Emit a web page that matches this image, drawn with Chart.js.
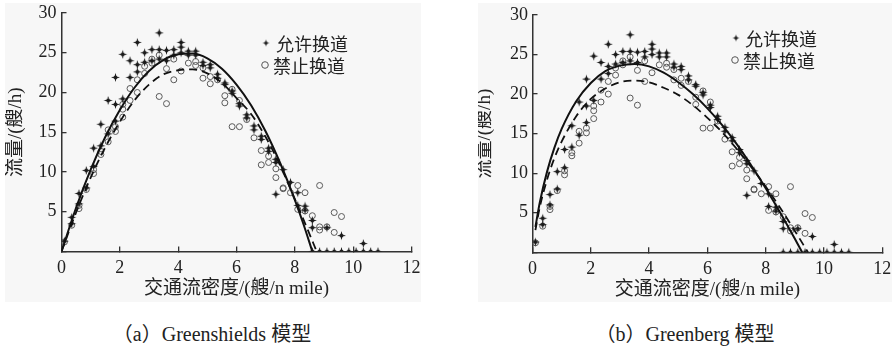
<!DOCTYPE html>
<html>
<head>
<meta charset="utf-8">
<script src="https://cdn.jsdelivr.net/npm/chart.js@4.4.1/dist/chart.umd.min.js"></script>
<style>
  html, body { margin: 0; padding: 0; background: #ffffff; }
  body { width: 895px; height: 349px; position: relative; overflow: hidden; }
  canvas { position: absolute; background: #f7f7f7; }
  .lg { position: absolute; font: 18px/18px "Noto Sans CJK SC", sans-serif; color: #222; white-space: nowrap; }
  .cap { position: absolute; font: 20px/24px "Liberation Serif", "Noto Sans CJK SC", serif; color: #222; white-space: nowrap; transform: translateX(-50%); }
</style>
</head>
<body>
<canvas id="cA" width="416" height="299" style="left:5px;top:3px;"></canvas>
<canvas id="cB" width="414" height="299" style="left:478px;top:3px;"></canvas>

<div class="lg" style="left:276px;top:34px;">允许换道</div>
<div class="lg" style="left:273px;top:56px;">禁止换道</div>
<div class="lg" style="left:745px;top:29px;">允许换道</div>
<div class="lg" style="left:743px;top:51px;">禁止换道</div>

<div class="cap" style="left:212px;top:322px;">（a）Greenshields 模型</div>
<div class="cap" style="left:685px;top:322px;">（b）Greenberg 模型</div>

<script>
// ---------------- data ----------------
// 允许换道 (lane change allowed) observations: density (艘/n mile), flow (艘/h)
const allowX = [0.1,0.35,0.35,0.6,0.6,0.85,0.85,1.1,1.1,1.35,1.35,1.6,1.6,1.85,1.85,1.85,2.1,2.1,2.35,2.35,
  2.6,2.6,2.6,2.85,2.85,3.1,3.1,3.35,3.35,3.35,3.6,3.6,3.85,3.85,4.1,4.1,4.1,4.35,4.35,4.6,4.6,4.85,4.85,
  5.1,5.1,5.35,5.35,5.6,5.6,5.85,5.85,6.1,6.1,6.35,6.35,6.6,6.6,6.85,6.85,7.1,7.1,7.35,7.35,7.35,7.6,7.85,
  8.1,8.1,8.35,8.35,8.6,8.6,9.1,9.6,10.35,
  8.6,8.85,9.1,9.35,9.6,9.85,10.1,10.35,10.6,10.85];
const allowY = [1.3,3.5,4.3,6.0,7.3,8.0,10.2,10.7,13.0,13.3,16.0,14.8,19.0,16.4,18.5,21.9,19.2,24.8,21.9,24.0,
  26.3,23.5,22.6,25.0,23.8,25.4,24.0,27.5,25.4,24.2,25.3,24.0,25.4,24.7,26.3,25.7,25.0,25.2,24.7,25.2,24.7,23.8,23.4,
  23.5,23.1,22.3,21.8,21.2,21.0,20.2,19.9,18.6,18.3,17.2,16.8,15.8,15.3,14.5,14.1,13.0,12.6,11.6,11.2,7.2,10.3,8.7,
  7.4,5.8,5.7,5.2,3.9,3.0,3.0,2.0,1.0,
  0,0,0,0,0,0,0,0,0,0];

// 禁止换道 (lane change forbidden) observations
const banX = [0.1,0.35,0.6,0.6,0.85,1.1,1.1,1.35,1.35,1.6,1.6,1.85,1.85,2.1,2.1,2.1,2.35,2.35,2.6,2.6,
  2.85,2.85,3.1,3.1,3.35,3.35,3.6,3.6,3.85,3.85,4.1,4.35,4.6,4.6,4.85,4.85,5.1,5.1,5.35,5.6,5.6,5.85,5.85,
  6.1,6.1,6.35,6.6,6.85,6.85,7.1,7.1,7.35,7.35,7.6,7.6,7.85,8.1,8.1,8.35,8.35,8.6,8.85,8.85,8.85,9.1,
  9.35,9.35,9.6];
const banY = [1.2,3.3,5.4,5.8,7.8,9.8,10.3,12.2,12.6,13.8,15.3,15.1,15.7,16.9,17.9,18.5,19.0,20.5,20.0,21.6,
  22.4,23.3,23.7,24.2,19.5,24.7,18.6,23.0,21.6,24.2,22.7,23.7,23.9,23.4,23.1,21.8,22.0,21.1,21.6,19.6,18.7,20.4,15.7,
  19.0,15.7,16.6,14.3,12.7,10.9,11.2,12.0,10.4,9.3,8.0,7.9,7.4,8.3,5.3,7.4,5.1,4.5,8.3,3.1,2.7,3.1,
  4.9,2.4,4.4];

// Greenshields fitted curves
const gsSolidK = [0,0.5,1,1.5,2,2.5,3,3.5,4,4.5,5,5.5,6,6.5,7,7.5,8,8.3,8.6];
const gsSolidQ = [0,5.5,10.3,14.4,17.8,20.6,22.7,24.1,24.8,24.9,24.3,23.0,21.0,18.4,15.1,11.1,6.5,3.4,0];
const gsDashK  = [0,0.5,1,1.5,2,2.5,3,3.5,4,4.5,5,5.5,6,6.5,7,7.5,8,8.4,8.75];
const gsDashQ  = [0,4.9,9.3,13.1,16.3,19.0,21.0,22.3,22.8,22.9,22.4,21.2,19.3,17.3,14.4,10.8,6.6,3.1,0];

// Greenberg fitted curves
const gbSolidK = [0.1,0.25,0.5,0.75,1,1.5,2,2.5,3,3.5,4,4.5,5,5.5,6,6.5,7,7.5,8,8.5,9,9.25];
const gbSolidQ = [3.2,6.3,10.2,13.2,15.6,19.1,21.4,22.9,23.6,23.8,23.5,22.7,21.5,20.0,18.2,16.1,13.7,11.0,8.1,5.0,1.7,0];
const gbDashK  = [0.1,0.25,0.5,0.75,1,1.5,2,2.5,3,3.5,4,4.5,5,5.5,6,6.5,7,7.5,8,8.5,9,9.45];
const gbDashQ  = [2.8,5.7,9.2,11.9,14.0,17.2,19.4,20.7,21.5,21.7,21.5,20.8,19.9,18.6,17.0,15.2,13.1,10.8,8.3,5.6,2.7,0];

const xTicks = [0,2,4,6,8,10,12];
const yTicks = [5,10,15,20,25,30];
const xTitle = '交通流密度/(艘/n mile)';
const yTitle = '流量/(艘/h)';
const seriesNames = ['允许换道','禁止换道'];

// ---------------- rendering ----------------
function pts(xs, ys) { return xs.map((x, i) => ({ x: x, y: ys[i] })); }

function makeStar(size, rOut, rIn, color) {
  const c = document.createElement('canvas');
  c.width = size; c.height = size;
  const g = c.getContext('2d');
  g.translate(size / 2, size / 2);
  g.beginPath();
  for (let i = 0; i < 8; i++) {
    const a = i * Math.PI / 4 - Math.PI / 2;
    const r = (i % 2 === 0) ? rOut : rIn;
    g.lineTo(r * Math.cos(a), r * Math.sin(a));
  }
  g.closePath();
  g.fillStyle = color; g.fill();
  g.beginPath(); g.arc(0, 0, rIn * 1.25, 0, Math.PI * 2); g.fill();
  return c;
}
const starImg = makeStar(11, 4.5, 1.45, '#1a1a1a');
const starSmall = makeStar(9, 3.4, 1.2, '#1a1a1a');

const tickFont = { family: '"Liberation Serif", "Times New Roman", serif', size: 18, lineHeight: 1 };
const titleFamily = '"Liberation Serif", "Noto Sans CJK SC", serif';

function legendMarkers(items) {
  return {
    id: 'legendMarkers',
    afterDraw(chart) {
      const ctx = chart.ctx;
      ctx.save();
      items.forEach(it => {
        if (it.type === 'star') {
          ctx.drawImage(starSmall, it.x - 4.5, it.y - 4.5);
        } else {
          ctx.beginPath(); ctx.arc(it.x, it.y, 3.3, 0, Math.PI * 2);
          ctx.strokeStyle = '#555'; ctx.lineWidth = 1; ctx.stroke();
        }
      });
      ctx.restore();
    }
  };
}

function build(id, solidK, solidQ, dashK, dashQ, geo, legendItems) {
  const datasets = [
    { label: seriesNames[0] + '拟合', data: pts(solidK, solidQ), showLine: true, borderColor: '#111', borderWidth: 2,
      pointRadius: 0, cubicInterpolationMode: 'monotone', fill: false, order: 1 },
    { label: seriesNames[1] + '拟合', data: pts(dashK, dashQ), showLine: true, borderColor: '#111', borderWidth: 1.8,
      borderDash: [8, 5], pointRadius: 0, cubicInterpolationMode: 'monotone', fill: false, order: 2 },
    { label: seriesNames[1], data: pts(banX, banY), showLine: false, pointStyle: 'circle', pointRadius: 3,
      pointBorderColor: '#5a5a5a', pointBackgroundColor: 'rgba(0,0,0,0)', pointBorderWidth: 1, order: 4 },
    { label: seriesNames[0], data: pts(allowX, allowY), showLine: false, pointStyle: starImg, pointRadius: 5, order: 3 }
  ];
  return new Chart(document.getElementById(id), {
    type: 'scatter',
    data: { datasets: datasets },
    options: {
      responsive: false, animation: false, events: [],
      layout: { padding: { top: geo.top, right: geo.right, left: 0, bottom: 0 } },
      plugins: { legend: { display: false }, tooltip: { enabled: false } },
      scales: {
        x: {
          type: 'linear', min: 0, max: 12,
          afterBuildTicks(s) { s.ticks = xTicks.map(v => ({ value: v })); },
          ticks: { font: tickFont, color: '#222', padding: geo.xPad, maxRotation: 0 },
          grid: { drawOnChartArea: false, tickLength: -5, color: '#333', lineWidth: 1.3 },
          border: { display: true, color: '#333', width: 1.5 },
          title: { display: true, text: xTitle, color: '#222',
                   font: { family: titleFamily, size: 19, lineHeight: 1 }, padding: { top: 0, bottom: geo.xTitlePad } },
          afterFit(s) { s.height = geo.xH; s.paddingLeft = 0; s.paddingRight = 0; s.paddingTop = 0; s.paddingBottom = 0; }
        },
        y: {
          type: 'linear', min: 0, max: 30,
          afterBuildTicks(s) { s.ticks = [0].concat(yTicks).map(v => ({ value: v })); },
          ticks: { font: tickFont, color: '#222', padding: geo.yPad, callback: v => (v === 0 ? '' : v) },
          grid: { drawOnChartArea: false, tickLength: -5, color: '#333', lineWidth: 1.3 },
          border: { display: true, color: '#333', width: 1.5 },
          title: { display: true, text: yTitle, color: '#222',
                   font: { family: titleFamily, size: 19, lineHeight: 0.74 }, padding: { top: geo.yTitlePad, bottom: 0 } },
          afterFit(s) { s.width = geo.yW; s.paddingLeft = 0; s.paddingRight = 0; s.paddingTop = 0; s.paddingBottom = 0; }
        }
      }
    },
    plugins: [legendMarkers(legendItems)]
  });
}

function drawAll() {
  build('cA', gsSolidK, gsSolidQ, gsDashK, gsDashQ,
    { top: 10, right: 9.5, yW: 56.5, xH: 50.5, xPad: 12.5, yPad: 10, xTitlePad: 3.5, yTitlePad: 3.8 },
    [{ type: 'star', x: 266 - 5, y: 43 - 3 }, { type: 'circle', x: 265 - 5, y: 65 - 3 }]);
  build('cB', gbSolidK, gbSolidQ, gbDashK, gbDashQ,
    { top: 12, right: 9.7, yW: 54.5, xH: 49.7, xPad: 12.9, yPad: 9.5, xTitlePad: 2, yTitlePad: 0 },
    [{ type: 'star', x: 736 - 478, y: 38 - 3 }, { type: 'circle', x: 735 - 478, y: 60 - 3 }]);
}

Promise.all([
  document.fonts.load('18px "Liberation Serif"', '0123456789n mile/()'),
  document.fonts.load('19px "Noto Sans CJK SC"', '交通流密度量艘允许换道禁止模型')
]).then(drawAll, drawAll);
</script>
</body>
</html>
